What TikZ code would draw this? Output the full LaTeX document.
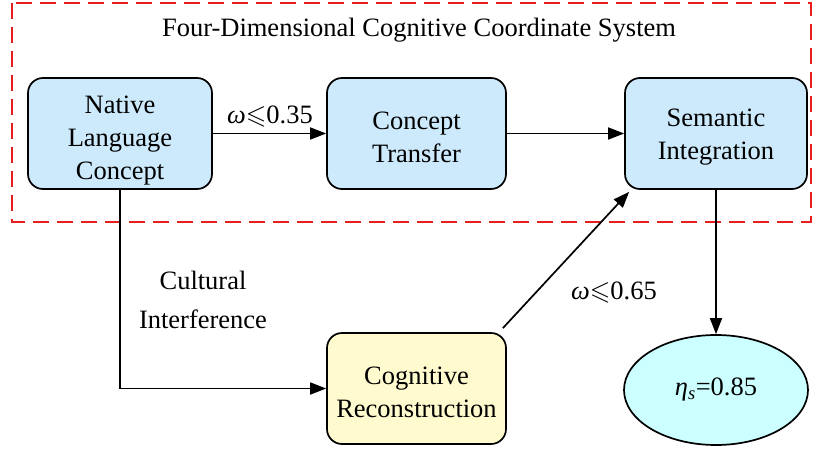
\documentclass[tikz,border=0pt]{standalone}
\usepackage{fontspec}
\usepackage{amssymb}
\setmainfont{Liberation Serif}
\usetikzlibrary{arrows.meta,shapes.geometric}
\definecolor{boxblue}{RGB}{204,234,251}
\definecolor{boxyellow}{RGB}{255,251,206}
\definecolor{ellcyan}{RGB}{204,255,255}
\definecolor{frame}{RGB}{230,30,30}
\tikzset{
  stage/.style={draw=black, line width=1.7pt, rounded corners=15pt, fill=boxblue,
    minimum width=182pt, minimum height=111pt, align=center,
    font=\fontsize{26.5}{33}\selectfont},
  recon/.style={stage, fill=boxyellow},
  result/.style={draw=black, line width=1.7pt, ellipse, fill=ellcyan,
    minimum width=184pt, minimum height=110pt, font=\fontsize{26.5}{33}\selectfont},
  link/.style={line width=1.7pt, -{Triangle[length=16pt,width=12pt]}},
  tag/.style={font=\fontsize{26.5}{39}\selectfont, align=center},
}
\newcommand{\omg}{{\itshape ω}}
% lowers a multi-line node text by padding its first line
\newcommand{\pad}[1]{\rule{0pt}{#1}}
\begin{document}
\begin{tikzpicture}[x=1pt, y=-1pt]
\useasboundingbox (0,0) rectangle (817,450);
% coordinate system frame
\draw[frame, line width=1.7pt, dash pattern=on 16pt off 8pt] (12,3) rectangle (811,222);
\node[tag] (title) at (419,30) {Four-Dimensional Cognitive Coordinate System};
% stages
\node[stage, minimum width=184pt] (native) at (120,133.5) {\pad{31pt}Native\\Language\\Concept};
\node[stage, minimum width=179pt] (transfer) at (416.5,133.5) {\pad{25pt}Concept\\Transfer};
\node[stage] (semantic) at (716,133.5) {\pad{25pt}Semantic\\Integration};
\node[recon, minimum width=179pt] (recon) at (416.5,388.5) {\pad{25pt}Cognitive\\Reconstruction};
\node[result] (eta) at (716,390) {{\itshape η\textsubscript{s}}=0.85};
% connectors
\draw[link] (native) -- (transfer);
\draw[link] (transfer) -- (semantic);
\draw[link] (native.south) |- (recon.west);
\draw[link] ([xshift=-4pt,yshift=4pt]recon.north east) -- ([xshift=5pt,yshift=-2pt]semantic.south west);
\draw[link] (semantic.south) -- (eta.north);
% labels
\node[tag] (w1) at (270,116) {\omg$\leqslant$0.35};
\node[tag] (w2) at (614,292) {\omg$\leqslant$0.65};
\node[tag] (cult) at (203,300) {Cultural\\Interference};
\end{tikzpicture}
\end{document}
